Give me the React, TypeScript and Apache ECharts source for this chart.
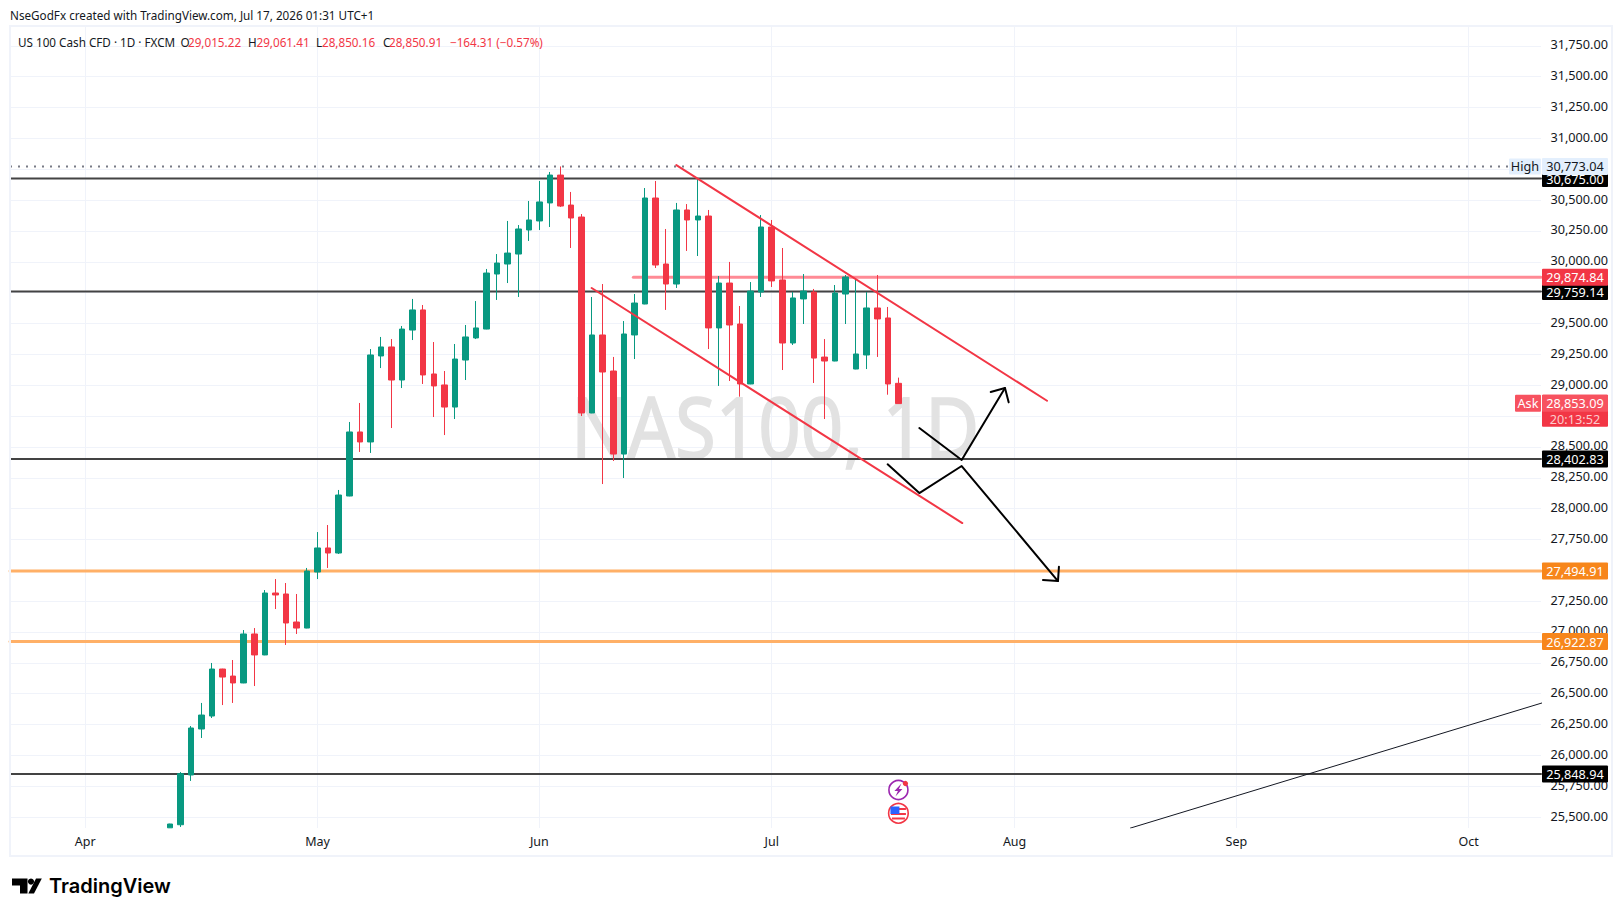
import React, { useEffect, useRef } from "react";
import * as echarts from "echarts";

const FONT = '"Noto Sans", sans-serif';
const INK = "#131722";
const UP = "#089981";
const DOWN = "#F23645";

// Trading-day numbering: 0 = 1 Apr 2026. First visible bar is day 8.
const firstBar = 8;
const opens = [25413,25438,25841,26214,26319,26700,26643,26587,26984,26814,27316,27308,27081,27032,27486,27681,27640,28102,28621,28540,29237,29310,29042,29447,29610,29091,29002,28823,29204,29383,29455,29901,29982,30063,30258,30331,30477,30703,30460,30363,28775,29407,29115,28442,29407,29658,30517,29982,29820,30420,30339,30371,29464,29828,29496,29010,29755,30282,29853,29342,29699,29755,29228,29196,29739,29131,29245,29626,29545,29015.22];
const closes = [25444,25852,26222,26327,26700,26635,26587,26984,26814,27316,27300,27073,27032,27494,27681,27640,28110,28621,28540,29245,29310,29042,29455,29610,29083,28994,28823,29212,29391,29464,29909,29990,30071,30266,30339,30485,30703,30452,30355,28775,29407,29107,28442,29415,29666,30517,29974,29820,30420,30339,30371,29464,29828,29488,29010,29763,30282,29845,29342,29707,29763,29220,29196,29747,29877,29253,29626,29537,29010,28850.91];
const lows = [25412,25420,25793,26141,26303,26408,26425,26585,26562,26812,27186,26895,26984,27030,27429,27519,27632,28100,28459,28451,29139,28653,28977,29366,29010,28742,28596,28726,29042,29374,29453,29691,29828,29715,30169,30258,30282,30444,30112,28750,28773,28199,28386,28248,29212,29656,29950,29610,29788,30088,30047,29293,28994,29034,28907,29008,29715,29796,29123,29326,29496,29018,28726,29194,29496,29129,29131,29229,28923,28850.16];
const highs = [25446,25865,26238,26425,26749,26702,26773,27016,27032,27340,27429,27397,27308,27519,27810,27867,28151,28702,28856,29293,29391,29374,29480,29699,29650,29350,29115,29334,29488,29682,29942,30063,30331,30298,30493,30655,30728,30773,30566,30387,29715,29820,29229,29520,29739,30598,30655,30266,30477,30468,30679,30420,29885,29999,29642,29836,30379,30339,30112,29755,29901,29780,29374,29812,29893,29869,29755,29893,29634,29061.41];

const monthNames = ["Apr", "May", "Jun", "Jul", "Aug", "Sep", "Oct"];
const monthBars = [0, 22, 43, 65, 88, 109, 131];
const priceTicks = [25500,25750,26000,26250,26500,26750,27000,27250,27500,27750,28000,28250,28500,28750,29000,29250,29500,29750,30000,30250,30500,30750,31000,31250,31500,31750];

const blackLevels = [30675.0, 29759.14, 28402.83, 25848.94];
const orangeLevels = [27494.91, 26922.87];
const redLevel = 29874.84;
const highLevel = 30773.04;
const askPrice = 28853.09;
const askCountdown = "20:13:52";

// drawn objects as [bar number, price]
const upperChannel = [[55.97, 30784], [91.07, 28874]];
const lowerChannel = [[47.95, 29788], [83.05, 27883]];
const redLevelStart = 51.9;
const longTrend = [[98.97, 25411], [137.95, 26425]];
const arrowUp = [[78.98, 28653], [82.99, 28394], [87.09, 28977]];
const arrowUpHead = [[85.74, 28945], [87.09, 28977], [87.44, 28861]];
const arrowDown = [[75.98, 28359], [78.98, 28126], [82.99, 28345], [92.11, 27413]];
const arrowDownHead = [[90.69, 27421], [92.11, 27413], [92.2, 27529]];

const legendParts = [
  { t: "O", x: 180.5, c: INK }, { t: "29,015.22", x: 188, c: DOWN },
  { t: "H", x: 248, c: INK }, { t: "29,061.41", x: 256.5, c: DOWN },
  { t: "L", x: 316, c: INK }, { t: "28,850.16", x: 322, c: DOWN },
  { t: "C", x: 383, c: INK }, { t: "28,850.91", x: 389, c: DOWN },
  { t: "−164.31 (−0.57%)", x: 450, c: DOWN },
];

const PANE = { left: 10, right: 1541, top: 27, bottom: 828 };
const xMin = -7.13, xMax = 137.85;
const yMin = 25411.6, yMax = 31902.9;

const fmt = (v: number) => v.toLocaleString("en-US", { minimumFractionDigits: 2, maximumFractionDigits: 2 });

const seg = (data: number[][], color: string, width: number, z: number, type: any = "solid", cap = "round") => ({
  type: "line", data, symbol: "none", silent: true, z, animation: false, clip: true,
  lineStyle: { color, width, type, cap, join: "round" },
});

const TAG_FONT = `12.7px ${FONT}`;
const HEAD_FONT = `11.7px ${FONT}`;

function tag(y: number, text: string, bg: string, color: string, z: number) {
  return [
    { type: "rect", z, shape: { x: 1542, y: y - 8.5, width: 66, height: 17, r: 1 }, style: { fill: bg } },
    { type: "text", z: z + 1, style: { x: 1575, y, text, fill: color, font: TAG_FONT, align: "center", verticalAlign: "middle" } },
  ];
}

export default function App() {
  const ref = useRef<HTMLDivElement>(null);
  useEffect(() => {
    const chart = echarts.init(ref.current!, null, { renderer: "svg" });
    const candles = opens.map((o, i) => [firstBar + i, o, closes[i], lows[i], highs[i]]);
    const gridColor = "#f0f3fa";
    chart.setOption({
      animation: false,
      backgroundColor: "#ffffff",
      textStyle: { fontFamily: FONT },
      grid: { left: PANE.left, top: PANE.top, width: PANE.right - PANE.left, height: PANE.bottom - PANE.top, containLabel: false },
      xAxis: {
        type: "value", min: xMin, max: xMax, scale: true,
        axisLine: { show: false },
        axisTick: { show: false, customValues: monthBars },
        splitLine: { show: false },
        axisLabel: {
          show: true, customValues: monthBars, color: INK, fontSize: 12.5, fontFamily: FONT, margin: 7,
          showMinLabel: true, showMaxLabel: true,
          formatter: (v: number) => monthNames[monthBars.indexOf(Math.round(v))] ?? "",
        },
      },
      yAxis: {
        type: "value", position: "right", min: yMin, max: yMax, scale: true,
        axisLine: { show: false },
        axisTick: { show: false, customValues: priceTicks },
        splitLine: { show: false },
        axisLabel: {
          show: true, customValues: priceTicks, color: INK, fontSize: 12.7, fontFamily: FONT,
          margin: 67, align: "right", verticalAlign: "bottom", lineHeight: 3, formatter: (v: number) => fmt(v),
        },
      },
      series: [
        {
          type: "line", data: [], silent: true, z: 0, symbol: "none",
          markLine: {
            z: 0, silent: true, symbol: "none", animation: false, label: { show: false },
            lineStyle: { color: gridColor, width: 1, type: "solid" },
            data: [...priceTicks.map((p) => ({ yAxis: p })), ...monthBars.map((b) => ({ xAxis: b }))],
          },
        },
        seg([[xMin, highLevel], [xMax, highLevel]], "#787b86", 2, 1, [2, 6], "butt"),
        ...blackLevels.map((p) => seg([[xMin, p], [xMax, p]], "#434343", 2, 1)),
        ...orangeLevels.map((p) => seg([[xMin, p], [xMax, p]], "#FFB067", 3, 1)),
        seg([[redLevelStart, redLevel], [xMax, redLevel]], "#FF8A95", 3, 1),
        {
          type: "candlestick", data: candles, encode: { x: 0, y: [1, 2, 3, 4] },
          barWidth: 6, z: 2, silent: true, clip: true,
          itemStyle: { color: UP, color0: DOWN, borderColor: UP, borderColor0: DOWN, borderWidth: 1 },
        },
        seg(upperChannel, DOWN, 2, 3),
        seg(lowerChannel, DOWN, 2, 3),
        seg(longTrend, INK, 1, 3),
        seg(arrowUp, "#000000", 2, 3),
        seg(arrowUpHead, "#000000", 2, 3),
        seg(arrowDown, "#000000", 2, 3),
        seg(arrowDownHead, "#000000", 2, 3),
      ],
    });
    const py = (p: number) => chart.convertToPixel({ yAxisIndex: 0 }, p) as number;
    const px = (b: number) => chart.convertToPixel({ xAxisIndex: 0 }, b) as number;
    const iconX = px(firstBar + opens.length - 1);
    const text = (x: number, y: number, t: string, fill: string, font = HEAD_FONT, z = 50, extra: any = {}) => ({
      type: "text", z, style: { x, y, text: t, fill, font, verticalAlign: "middle", ...extra },
    });
    const elements: any[] = [
      // watermark
      {
        type: "text", z: 1, x: 571, y: 425, scaleX: 0.885,
        style: { x: 0, y: 0, text: "NAS100, 1D", fill: "#e2e2e2", stroke: "#e2e2e2", lineWidth: 1.5, font: `84px ${FONT}`, verticalAlign: "middle" },
      },
      // frame
      { type: "rect", z: 40, shape: { x: 10, y: 26, width: 1602, height: 830 }, style: { fill: "none", stroke: "#f0f3fa", lineWidth: 2 } },
      text(10, 14.5, "NseGodFx created with TradingView.com, Jul 17, 2026 01:31 UTC+1", INK),
      text(18, 41.5, "US 100 Cash CFD · 1D · FXCM", INK),
      ...legendParts.map((l) => text(l.x, 41.5, l.t, l.c)),
      // price tags
      ...tag(py(blackLevels[0]), fmt(blackLevels[0]), "#000000", "#ffffff", 60),
      ...tag(py(highLevel), fmt(highLevel), "#e3effd", INK, 62),
      { type: "rect", z: 62, shape: { x: 1509, y: py(highLevel) - 8, width: 32, height: 16, r: 1 }, style: { fill: "#e3effd" } },
      text(1525, py(highLevel), "High", INK, TAG_FONT, 63, { align: "center" }),
      ...tag(py(blackLevels[1]), fmt(blackLevels[1]), "#000000", "#ffffff", 60),
      ...tag(py(redLevel), fmt(redLevel), DOWN, "#ffffff", 62),
      ...tag(py(blackLevels[2]), fmt(blackLevels[2]), "#000000", "#ffffff", 60),
      ...tag(py(blackLevels[3]), fmt(blackLevels[3]), "#000000", "#ffffff", 60),
      ...orangeLevels.flatMap((p) => tag(py(p), fmt(p), "#F7861B", "#ffffff", 60)),
      // ask tag
      { type: "rect", z: 62, shape: { x: 1542, y: py(askPrice) - 8.5, width: 66, height: 32, r: 1 }, style: { fill: DOWN } },
      { type: "rect", z: 63, shape: { x: 1542, y: py(askPrice) - 8.5, width: 66, height: 17, r: 1 }, style: { fill: "#F7525F" } },
      text(1575, py(askPrice), fmt(askPrice), "#ffffff", TAG_FONT, 64, { align: "center" }),
      text(1575, py(askPrice) + 16, askCountdown, "#fccbcd", TAG_FONT, 64, { align: "center" }),
      { type: "rect", z: 62, shape: { x: 1515, y: py(askPrice) - 8.5, width: 26, height: 17, r: 1 }, style: { fill: "#F7525F" } },
      text(1528, py(askPrice), "Ask", "#ffffff", TAG_FONT, 64, { align: "center" }),
      // event icons
      { type: "circle", z: 30, shape: { cx: iconX, cy: 790, r: 9.5 }, style: { fill: "#ffffff", stroke: "#9c27b0", lineWidth: 1.6 } },
      { type: "polygon", z: 31, shape: { points: [[iconX + 3, 783.5], [iconX - 4, 791], [iconX - 0.5, 791], [iconX - 3, 796.5], [iconX + 4, 789], [iconX + 0.5, 789]] }, style: { fill: "#9c27b0" } },
      { type: "circle", z: 32, shape: { cx: iconX + 7, cy: 783.5, r: 2.6 }, style: { fill: DOWN } },
      { type: "circle", z: 30, shape: { cx: iconX, cy: 813.3, r: 9.8 }, style: { fill: "#ffffff", stroke: DOWN, lineWidth: 1.6 } },
      { type: "rect", z: 31, shape: { x: iconX - 7.5, y: 808, width: 15, height: 2 }, style: { fill: DOWN } },
      { type: "rect", z: 31, shape: { x: iconX - 7.5, y: 813, width: 15, height: 2 }, style: { fill: DOWN } },
      { type: "rect", z: 31, shape: { x: iconX - 6.5, y: 817.5, width: 13, height: 2 }, style: { fill: DOWN } },
      { type: "rect", z: 32, shape: { x: iconX - 8, y: 806.5, width: 9, height: 7.5 }, style: { fill: "#2962ff" } },
      // TradingView logo
      { type: "polygon", z: 50, shape: { points: [[12, 878.5], [27.5, 878.5], [27.5, 893.5], [20, 893.5], [20, 885.5], [12, 885.5]] }, style: { fill: "#000000" } },
      { type: "circle", z: 50, shape: { cx: 31, cy: 881.6, r: 3.1 }, style: { fill: "#000000" } },
      { type: "polygon", z: 50, shape: { points: [[36, 878.5], [41.8, 878.5], [34, 893.5], [28.3, 893.5]] }, style: { fill: "#000000" } },
      text(49, 886, "TradingView", "#000000", `600 20px Inter, ${FONT}`),
    ];
    chart.setOption({ graphic: { elements } });
    return () => chart.dispose();
  }, []);
  return <div ref={ref} style={{ position: "fixed", left: 0, top: 0, width: 1623, height: 916, background: "#fff" }} />;
}
